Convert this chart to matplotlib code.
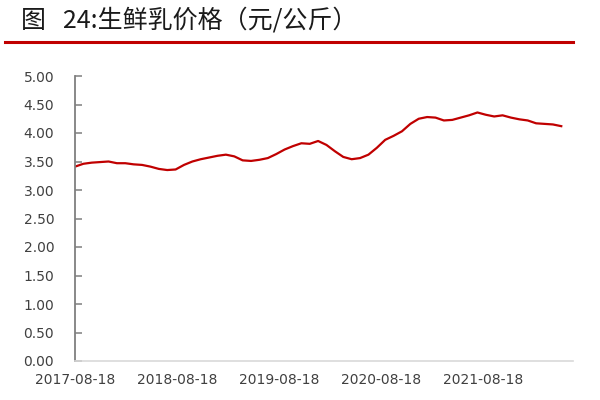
import matplotlib
matplotlib.use('Agg')
import matplotlib.pyplot as plt
import pandas as pd

plt.rcParams['font.family'] = ['Noto Sans CJK SC', 'DejaVu Sans']

# monthly readings of raw milk price (yuan/kg), starting 2017-08-18
start_date = '2017-08-18'
prices = [3.41, 3.46, 3.48, 3.49, 3.50, 3.47, 3.47, 3.45, 3.44, 3.41,
          3.37, 3.35, 3.36, 3.44, 3.50, 3.54, 3.57, 3.60, 3.62, 3.59,
          3.52, 3.51, 3.53, 3.56, 3.63, 3.71, 3.77, 3.82, 3.81, 3.86,
          3.79, 3.68, 3.58, 3.54, 3.56, 3.62, 3.74, 3.88, 3.95, 4.03,
          4.16, 4.25, 4.28, 4.27, 4.22, 4.23, 4.27, 4.31, 4.36, 4.32,
          4.29, 4.31, 4.27, 4.24, 4.22, 4.17, 4.16, 4.15, 4.12]
tick_labels = ['2017-08-18', '2018-08-18', '2019-08-18', '2020-08-18', '2021-08-18']
title = '图   24:生鲜乳价格（元/公斤）'

dates = pd.date_range(start_date, periods=len(prices), freq='30D')

fig = plt.figure(figsize=(6, 4), dpi=100)
ax = fig.add_axes([0.125, 0.0975, 0.83, 0.7125])

ax.plot(dates, prices, color='#C00000', linewidth=1.6)

ax.set_ylim(0, 5)
ax.set_yticks([i * 0.5 for i in range(11)])
ax.yaxis.set_major_formatter(matplotlib.ticker.FormatStrFormatter('%.2f'))
ax.set_xlim(pd.Timestamp(start_date), pd.Timestamp('2022-07-05'))
ax.set_xticks(pd.to_datetime(tick_labels))
ax.set_xticklabels(tick_labels)

for s in ['top', 'right']:
    ax.spines[s].set_visible(False)
ax.spines['left'].set_color('#7f7f7f')
ax.spines['left'].set_linewidth(1.3)
ax.spines['bottom'].set_color('#d9d9d9')
ax.spines['bottom'].set_linewidth(1.2)
ax.tick_params(axis='y', direction='in', length=5, width=1.1, color='#7f7f7f',
               labelsize=10, labelcolor='#404040', pad=15)
ax.tick_params(axis='x', length=0, labelsize=10, labelcolor='#404040', pad=9)
for lbl in ax.get_xticklabels() + ax.get_yticklabels():
    lbl.set_family(['DejaVu Sans'])

fig.text(0.035, 0.95, title, fontsize=18, fontweight='medium', color='#1a1a1a',
         va='center', ha='left')
fig.add_artist(plt.Line2D([0.009, 0.955], [0.894, 0.894], color='#C00000',
                          linewidth=2.2, transform=fig.transFigure))

fig.savefig('out.png', dpi=100)
